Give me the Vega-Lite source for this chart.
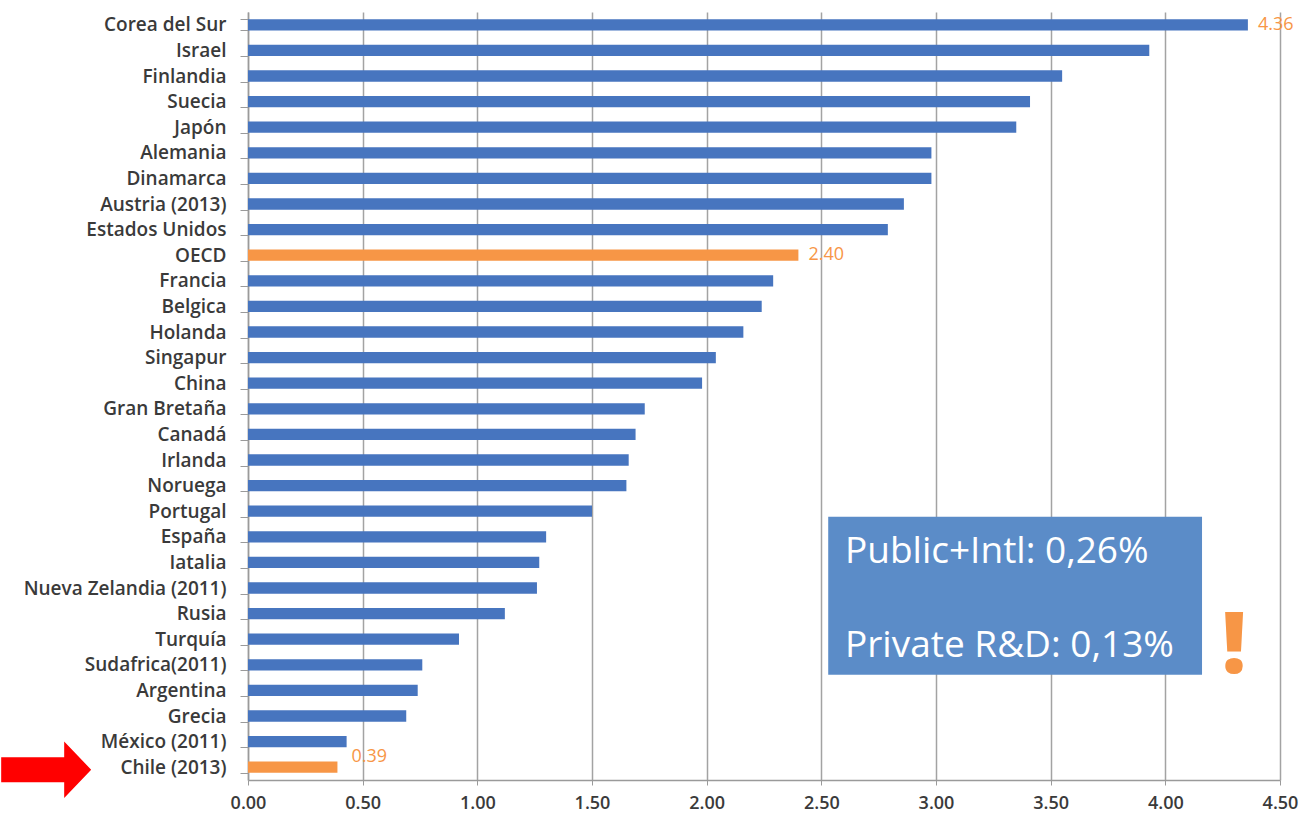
{
  "$schema": "https://vega.github.io/schema/vega-lite/v6.json",
  "width": 1032,
  "height": 768,
  "autosize": {"type": "none"},
  "padding": {"left": 248, "top": 12, "right": 25, "bottom": 38},
  "background": "white",
  "config": {"view": {"stroke": null}, "font": "Open Sans"},
  "data": {
    "values": [
      {"country": "Corea del Sur", "value": 4.36},
      {"country": "Israel", "value": 3.93},
      {"country": "Finlandia", "value": 3.55},
      {"country": "Suecia", "value": 3.41},
      {"country": "Japón", "value": 3.35},
      {"country": "Alemania", "value": 2.98},
      {"country": "Dinamarca", "value": 2.98},
      {"country": "Austria (2013)", "value": 2.86},
      {"country": "Estados Unidos", "value": 2.79},
      {"country": "OECD", "value": 2.40},
      {"country": "Francia", "value": 2.29},
      {"country": "Belgica", "value": 2.24},
      {"country": "Holanda", "value": 2.16},
      {"country": "Singapur", "value": 2.04},
      {"country": "China", "value": 1.98},
      {"country": "Gran Bretaña", "value": 1.73},
      {"country": "Canadá", "value": 1.69},
      {"country": "Irlanda", "value": 1.66},
      {"country": "Noruega", "value": 1.65},
      {"country": "Portugal", "value": 1.50},
      {"country": "España", "value": 1.30},
      {"country": "Iatalia", "value": 1.27},
      {"country": "Nueva Zelandia (2011)", "value": 1.26},
      {"country": "Rusia", "value": 1.12},
      {"country": "Turquía", "value": 0.92},
      {"country": "Sudafrica(2011)", "value": 0.76},
      {"country": "Argentina", "value": 0.74},
      {"country": "Grecia", "value": 0.69},
      {"country": "México (2011)", "value": 0.43},
      {"country": "Chile (2013)", "value": 0.39}
    ]
  },
  "layer": [
    {
      "encoding": {
        "y": {
          "field": "country",
          "type": "nominal",
          "sort": null,
          "scale": {"paddingInner": 0.56, "paddingOuter": 0.28},
          "axis": {
            "title": null,
            "tickBand": "extent",
            "tickSize": 8,
            "tickColor": "#9a9a9a",
            "domainColor": "#9a9a9a",
            "domainWidth": 1.5,
            "labelFontSize": 19,
            "labelFontWeight": 600,
            "labelColor": "#3a3a3a",
            "labelPadding": 14,
            "labelLimit": 400
          }
        },
        "x": {
          "field": "value",
          "type": "quantitative",
          "scale": {"domain": [0, 4.5], "nice": false},
          "axis": {
            "title": null,
            "values": [0, 0.5, 1, 1.5, 2, 2.5, 3, 3.5, 4, 4.5],
            "format": ".2f",
            "grid": true,
            "gridColor": "#a3a3a3",
            "gridWidth": 1.5,
            "tickColor": "#9a9a9a",
            "tickSize": 5,
            "domainColor": "#9a9a9a",
            "domainWidth": 1.5,
            "labelFontSize": 18,
            "labelFontWeight": 600,
            "labelColor": "#3a3a3a",
            "labelPadding": 9,
            "labelFlush": false
          }
        }
      },
      "layer": [
        {
          "mark": {"type": "bar"},
          "encoding": {
            "color": {
              "condition": {"test": "datum.country === 'OECD' || datum.country === 'Chile (2013)'", "value": "#f79646"},
              "value": "#4775bf"
            }
          }
        },
        {
          "transform": [{"filter": "datum.country === 'OECD' || datum.country === 'Corea del Sur'"}],
          "mark": {"type": "text", "align": "left", "baseline": "middle", "dx": 10, "fontSize": 18, "color": "#f79646"},
          "encoding": {"text": {"field": "value", "type": "quantitative", "format": ".2f"}}
        },
        {
          "transform": [{"filter": "datum.country === 'Chile (2013)'"}],
          "mark": {"type": "text", "align": "left", "baseline": "middle", "dx": 14, "dy": -10, "fontSize": 18, "color": "#f79646"},
          "encoding": {"text": {"field": "value", "type": "quantitative", "format": ".2f"}}
        }
      ]
    },
    {
      "data": {"values": [{}]},
      "layer": [
        {
          "mark": {"type": "rect", "color": "#5b8cc8"},
          "encoding": {
            "x": {"datum": 2.53, "type": "quantitative", "scale": {"domain": [0, 4.5], "nice": false}},
            "x2": {"datum": 4.16},
            "y": {"datum": 19.72, "type": "quantitative", "scale": {"domain": [0, 30], "reverse": true, "nice": false}, "axis": null},
            "y2": {"datum": 25.89}
          }
        },
        {
          "mark": {"type": "text", "align": "left", "baseline": "alphabetic", "fontSize": 37, "color": "white"},
          "encoding": {
            "x": {"datum": 2.603, "type": "quantitative", "scale": {"domain": [0, 4.5], "nice": false}},
            "y": {"datum": 21.52, "type": "quantitative", "scale": {"domain": [0, 30], "reverse": true, "nice": false}, "axis": null},
            "text": {"value": "Public+Intl: 0,26%"}
          }
        },
        {
          "mark": {"type": "text", "align": "left", "baseline": "alphabetic", "fontSize": 37, "color": "white"},
          "encoding": {
            "x": {"datum": 2.603, "type": "quantitative", "scale": {"domain": [0, 4.5], "nice": false}},
            "y": {"datum": 25.2, "type": "quantitative", "scale": {"domain": [0, 30], "reverse": true, "nice": false}, "axis": null},
            "text": {"value": "Private R&D: 0,13%"}
          }
        },
        {
          "mark": {"type": "text", "align": "center", "baseline": "alphabetic", "fontSize": 85, "fontWeight": 800, "color": "#f79646"},
          "encoding": {
            "x": {"datum": 4.30, "type": "quantitative", "scale": {"domain": [0, 4.5], "nice": false}},
            "y": {"datum": 25.82, "type": "quantitative", "scale": {"domain": [0, 30], "reverse": true, "nice": false}, "axis": null},
            "text": {"value": "!"}
          }
        },
        {
          "mark": {
            "type": "point",
            "shape": "M-1,-0.28 L0.4,-0.28 L0.4,-0.63 L1,0 L0.4,0.63 L0.4,0.28 L-1,0.28 Z",
            "size": 8100,
            "filled": true,
            "color": "#ff0000",
            "opacity": 1,
            "strokeWidth": 0
          },
          "encoding": {
            "x": {"datum": -0.88, "type": "quantitative", "scale": {"domain": [0, 4.5], "nice": false}},
            "y": {"datum": 29.6, "type": "quantitative", "scale": {"domain": [0, 30], "reverse": true, "nice": false}, "axis": null}
          }
        }
      ]
    }
  ],
  "resolve": {"scale": {"y": "independent"}}
}
